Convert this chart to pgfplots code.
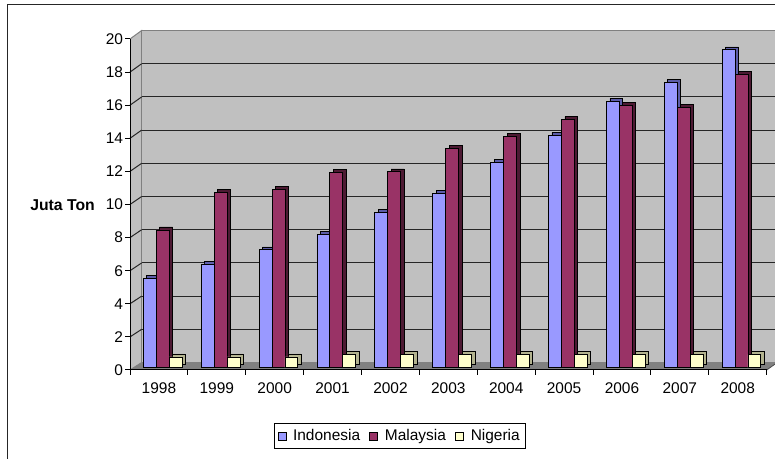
\documentclass[border=0pt]{standalone}
\usepackage{pgfplots}
\pgfplotsset{compat=1.18}
\usepackage{fontspec}
\setmainfont{Liberation Sans}
\definecolor{indo}{HTML}{9999FF}
\definecolor{indoside}{HTML}{5C5CA8}
\definecolor{malay}{HTML}{993366}
\definecolor{malayside}{HTML}{4D1A33}
\definecolor{nig}{HTML}{FFFFCC}
\definecolor{nigside}{HTML}{B3B38F}
\definecolor{wall}{HTML}{C0C0C0}
\definecolor{floorc}{HTML}{808080}
\newcommand{\tf}{\fontsize{11.6}{13}\selectfont}
\pgfplotsset{sqleg/.style={legend image code/.code={\draw[##1] (0pt,-3pt) rectangle (6pt,3pt);}}}
\begin{document}
\begin{tikzpicture}
\useasboundingbox (0,0) rectangle (581.25pt,344.25pt);
\clip (0,0) rectangle (581.25pt,344.25pt);
\fill[white] (0,0) rectangle (581.25pt,344.25pt);
% outer frame
\draw[black!85, line width=0.8pt] (5.625pt,-2pt) -- (5.625pt,340.875pt) -- (590pt,340.875pt);
% left wall
\fill[wall] (97.5pt,66.75pt) -- (97.5pt,315pt) -- (106.275pt,321.375pt) -- (106.275pt,72.375pt) -- cycle;
\draw[floorc, line width=0.75pt] (97.5pt,315pt) -- (106.275pt,321.375pt) -- (106.275pt,72.375pt);
% back wall
\begin{axis}[at={(106.275pt,72.375pt)}, anchor=south west, scale only axis,
  width=477pt, height=249pt, xmin=0, xmax=1, ymin=0, ymax=20,
  axis background/.style={fill=wall},
  axis line style={draw=floorc, line width=0.75pt},
  xtick=\empty, ytick={2,4,...,18}, yticklabels={}, major tick length=0pt,
  ymajorgrids, grid style={black!85, line width=0.75pt}]
\addplot[draw=none] coordinates {(0,0)};
\end{axis}
% floor
\fill[floorc] (97.5pt,66.75pt) -- (575pt,66.75pt) -- (583pt,72.375pt) -- (106.275pt,72.375pt) -- cycle;
\draw[black!70, line width=0.6pt] (575pt,66.75pt) -- (583pt,72.375pt);
% connectors on the left wall
\foreach \v in {2,4,...,18}
  \draw[black!85, line width=0.75pt] ({97.5pt},{66.75pt+12.4125pt*\v}) -- ({106.275pt},{72.375pt+12.45pt*\v});
\draw[floorc, line width=0.75pt] (97.5pt,66.75pt) -- (106.275pt,72.375pt);
% y label
\node[anchor=east, inner sep=0pt, font=\bfseries\fontsize{11.8}{13}\selectfont] at (71.25pt,190.5pt) {Juta Ton};
% front axis
\begin{axis}[at={(97.5pt,66.75pt)}, anchor=south west, scale only axis,
  width=477.5pt, height=248.25pt, xmin=-0.5, xmax=10.5, ymin=0, ymax=20,
  axis x line*=bottom, axis y line*=left,
  axis line style={black, line width=0.75pt},
  xtick={-0.5,0.5,...,10.5},
  xticklabels={1998,1999,2000,2001,2002,2003,2004,2005,2006,2007,2008},
  x tick label as interval,
  ytick={0,2,...,20},
  tick align=outside, major tick length=3.75pt,
  tick style={black, line width=0.75pt},
  tick label style={font=\tf},
  /pgf/number format/assume math mode=true,
  xticklabel style={yshift=-1.9pt},
  yticklabel style={xshift=2pt}]
\addplot[draw=none] coordinates {(0,0)};
\end{axis}
% bars
\begin{axis}[at={(100.32pt,68.475pt)}, anchor=south west, scale only axis,
  width=477.51pt, height=249pt, xmin=-0.5, xmax=10.5, ymin=0, ymax=20,
  hide axis, clip=false,
  legend style={at={(axis description cs:0.4182,-0.2067)}, anchor=center,
    draw=black, line width=0.75pt, font=\tf, legend columns=3,
    /tikz/every odd column/.append style={column sep=3pt},
    /tikz/every even column/.append style={column sep=5pt}, inner sep=2.5pt}]
\addplot[ybar, bar width=9.675pt, bar shift=-9.675pt, fill=indoside, draw=black, line width=0.5pt, xshift=2.6pt, yshift=2.2pt, forget plot]
  coordinates {(0,5.4) (1,6.25) (2,7.1) (3,8.05) (4,9.35) (5,10.5) (6,12.35) (7,14.0) (8,16.05) (9,17.2) (10,19.15)};
\addplot[ybar, bar width=9.675pt, bar shift=-9.675pt, fill=indo, draw=black, line width=0.6pt, sqleg]
  coordinates {(0,5.4) (1,6.25) (2,7.1) (3,8.05) (4,9.35) (5,10.5) (6,12.35) (7,14.0) (8,16.05) (9,17.2) (10,19.15)};
\addplot[ybar, bar width=9.675pt, bar shift=0pt, fill=malayside, draw=black, line width=0.5pt, xshift=2.6pt, yshift=2.2pt, forget plot]
  coordinates {(0,8.3) (1,10.55) (2,10.75) (3,11.75) (4,11.8) (5,13.2) (6,13.95) (7,14.95) (8,15.8) (9,15.7) (10,17.65)};
\addplot[ybar, bar width=9.675pt, bar shift=0pt, fill=malay, draw=black, line width=0.6pt, sqleg]
  coordinates {(0,8.3) (1,10.55) (2,10.75) (3,11.75) (4,11.8) (5,13.2) (6,13.95) (7,14.95) (8,15.8) (9,15.7) (10,17.65)};
\addplot[ybar, bar width=9.675pt, bar shift=9.675pt, fill=nigside, draw=black, line width=0.5pt, xshift=2.6pt, yshift=2.2pt, forget plot]
  coordinates {(0,0.65) (1,0.65) (2,0.65) (3,0.8) (4,0.8) (5,0.8) (6,0.8) (7,0.8) (8,0.8) (9,0.8) (10,0.8)};
\addplot[ybar, bar width=9.675pt, bar shift=9.675pt, fill=nig, draw=black, line width=0.6pt, sqleg]
  coordinates {(0,0.65) (1,0.65) (2,0.65) (3,0.8) (4,0.8) (5,0.8) (6,0.8) (7,0.8) (8,0.8) (9,0.8) (10,0.8)};
\legend{Indonesia, Malaysia, Nigeria}
\end{axis}
\end{tikzpicture}
\end{document}
